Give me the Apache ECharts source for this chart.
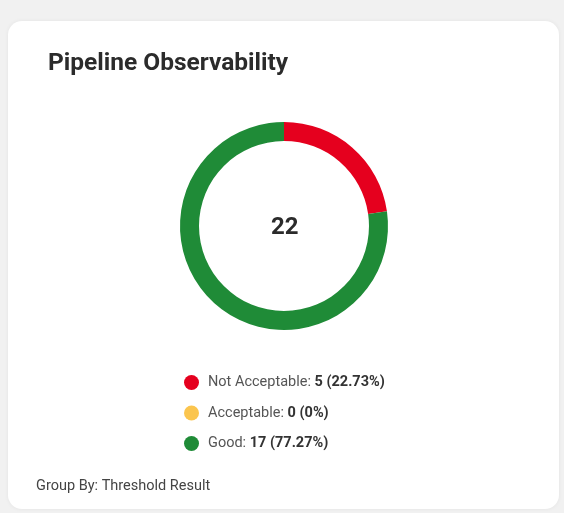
<!DOCTYPE html>
<html>
<head>
<meta charset="utf-8">
<script src="https://cdn.jsdelivr.net/npm/echarts@6/dist/echarts.min.js"></script>
<style>
html,body{margin:0;padding:0;background:#f1f1f1;}
#chart{width:564px;height:513px;}
</style>
</head>
<body>
<div id="chart"></div>
<script>
const titleText = 'Pipeline Observability';
const footerText = 'Group By: Threshold Result';
const categories = ['Not Acceptable', 'Acceptable', 'Good'];
const values = [5, 0, 17];
const colors = ['#e5001e', '#fbc54e', '#1f8b37'];

const total = values.reduce((a, b) => a + b, 0);
const pct = v => {
  const p = Math.round(v / total * 10000) / 100;
  return p + '%';
};

const chart = echarts.init(document.getElementById('chart'));
chart.setOption({
  backgroundColor: '#f1f1f1',
  animation: false,
  graphic: [
    {
      type: 'rect', left: 8, top: 21, z: -1,
      shape: { width: 551, height: 488, r: 14 },
      style: { fill: '#ffffff', shadowBlur: 4, shadowColor: 'rgba(0,0,0,0.06)' }
    },
    {
      type: 'text', left: 48, top: 51,
      style: { text: titleText, font: 'bold 24.5px Roboto', fill: '#2b2b2b' }
    },
    {
      type: 'text', left: 36, top: 479,
      style: { text: footerText, font: '14.5px Roboto', fill: '#444444' }
    },
    {
      type: 'text', left: 271, top: 216,
      style: { text: String(total), font: 'bold 24px Roboto', fill: '#2b2b2b' }
    }
  ],
  legend: {
    orient: 'vertical',
    left: 179,
    top: 370,
    icon: 'circle',
    itemWidth: 15,
    itemHeight: 15,
    itemGap: 15.5,
    data: categories,
    formatter: name => {
      const i = categories.indexOf(name);
      return name + ': {b|' + values[i] + ' (' + pct(values[i]) + ')}';
    },
    textStyle: {
      fontFamily: 'Roboto',
      fontSize: 14.5,
      color: '#555555',
      padding: [0, 0, 0, 4],
      rich: {
        b: { fontFamily: 'Roboto', fontSize: 14.5, fontWeight: 'bold', color: '#333333' }
      }
    }
  },
  series: [{
    type: 'pie',
    center: [284, 226],
    radius: [85, 104],
    startAngle: 90,
    clockwise: true,
    label: { show: false },
    labelLine: { show: false },
    emphasis: { disabled: true },
    data: categories.map((c, i) => ({ name: c, value: values[i], itemStyle: { color: colors[i] } }))
  }]
});
</script>
</body>
</html>
